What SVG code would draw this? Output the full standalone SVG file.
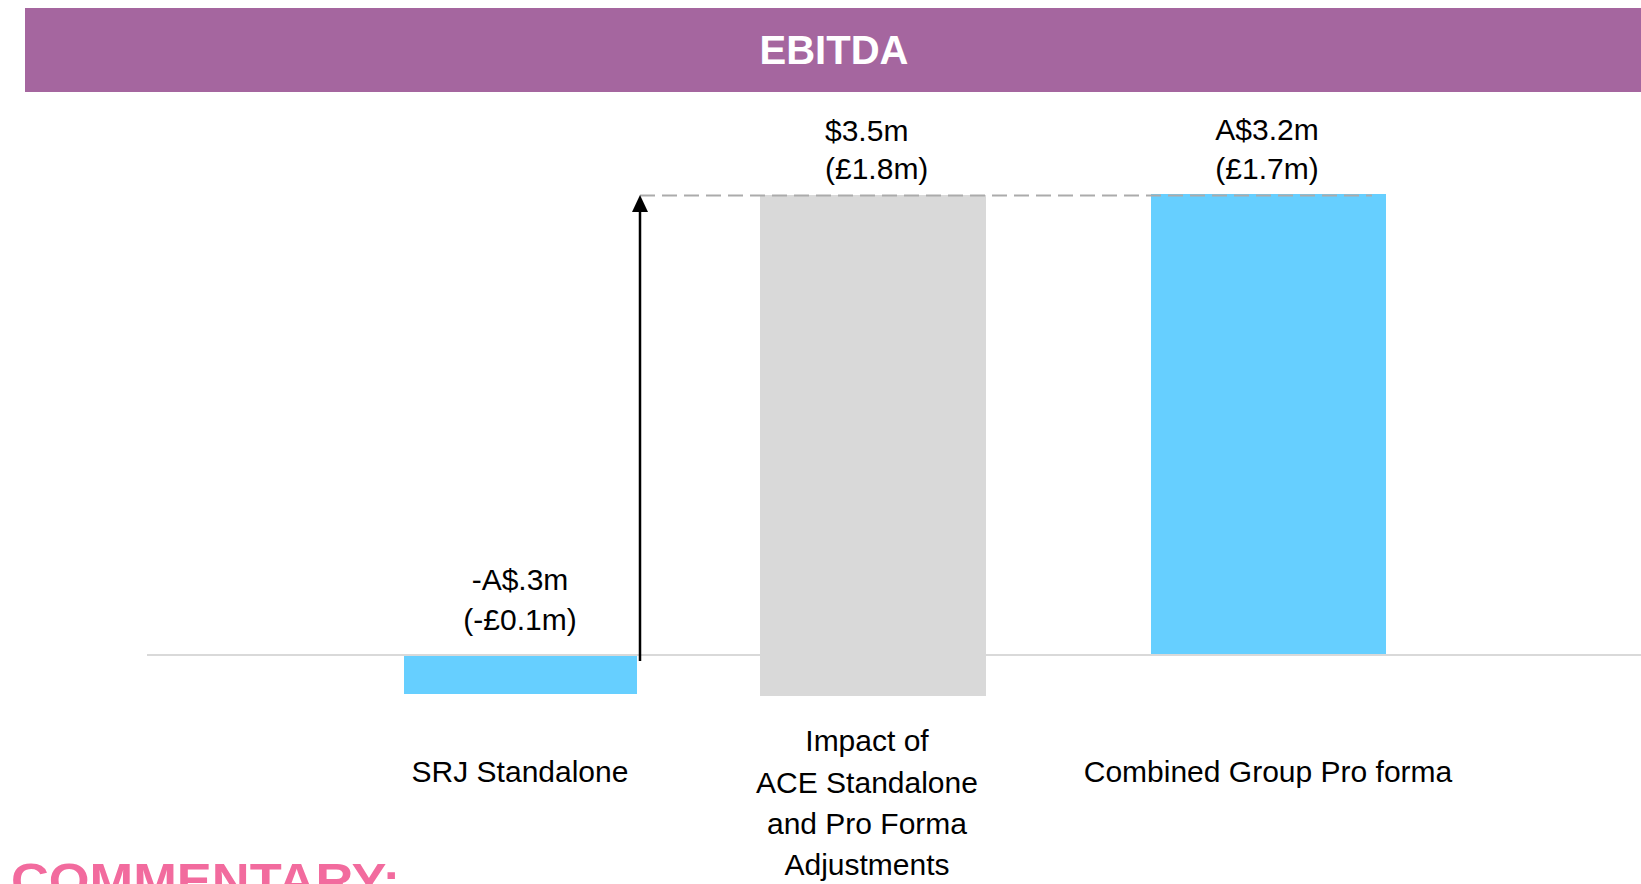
<svg xmlns="http://www.w3.org/2000/svg" width="1641" height="884" viewBox="0 0 1641 884">
  <style>
    .lbl { font-family: "Liberation Sans", Arial, sans-serif; font-size: 30px; fill: #000; }
    .mid { text-anchor: middle; }
    .blue { fill: #66CFFF; }
    .grey { fill: #D9D9D9; }
  </style>
  <defs>
    <marker id="arrowhead" markerUnits="userSpaceOnUse" markerWidth="17" markerHeight="16" refX="7" refY="8" orient="auto" viewBox="0 0 17 16">
      <path d="M0 0 L17 8 L0 16 Z" fill="#000"/>
    </marker>
  </defs>
  <rect width="1641" height="884" fill="#fff"/>

  <g id="header">
    <rect x="25" y="8" width="1616" height="84" fill="#A5669F"/>
    <text x="834" y="64" text-anchor="middle" font-family="'Liberation Sans', Arial, sans-serif" font-size="40" font-weight="bold" fill="#fff">EBITDA</text>
  </g>

  <g id="bar-srj">
    <rect class="blue" x="404" y="655" width="233" height="39"/>
    <text class="lbl mid" x="520" y="590">-A$.3m</text>
    <text class="lbl mid" x="520" y="630">(-£0.1m)</text>
    <text class="lbl mid" x="520" y="782">SRJ Standalone</text>
  </g>

  <g id="bar-impact">
    <rect class="grey" x="760" y="195" width="226" height="501"/>
    <text class="lbl" x="825" y="141">$3.5m</text>
    <text class="lbl" x="825" y="179">(£1.8m)</text>
    <text class="lbl mid" x="867" y="751">Impact of</text>
    <text class="lbl mid" x="867" y="793">ACE Standalone</text>
    <text class="lbl mid" x="867" y="834">and Pro Forma</text>
    <text class="lbl mid" x="867" y="875">Adjustments</text>
  </g>

  <g id="bar-combined">
    <rect class="blue" x="1151" y="194" width="235" height="461"/>
    <text class="lbl mid" x="1267" y="140">A$3.2m</text>
    <text class="lbl mid" x="1267" y="179">(£1.7m)</text>
    <text class="lbl mid" x="1268" y="782">Combined Group Pro forma</text>
  </g>

  <g id="connectors">
    <line x1="147" y1="655" x2="1641" y2="655" stroke="#D9D9D9" stroke-width="2"/>
    <line x1="640" y1="195.5" x2="1372" y2="195.5" stroke="#ABABAB" stroke-width="2" stroke-dasharray="15 7"/>
    <line x1="640" y1="661" x2="640" y2="205" stroke="#000" stroke-width="2.5" marker-end="url(#arrowhead)"/>
  </g>

  <g id="commentary">
    <text x="11" y="897" font-family="'Liberation Sans', Arial, sans-serif" font-size="48" font-weight="bold" fill="#F26B9E" textLength="389" lengthAdjust="spacingAndGlyphs">COMMENTARY:</text>
  </g>
</svg>
